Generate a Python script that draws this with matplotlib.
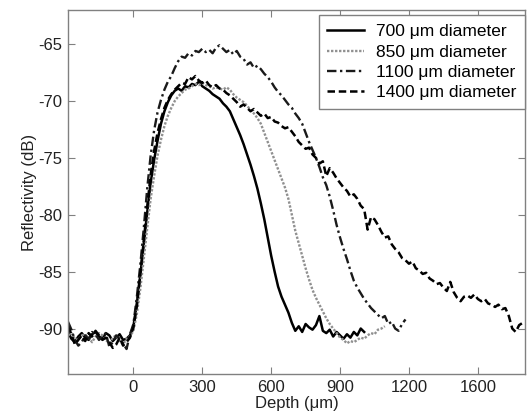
import numpy as np
import matplotlib.pyplot as plt

plt.rcParams['font.family'] = ['Liberation Sans', 'DejaVu Sans']
plt.rcParams['axes.unicode_minus'] = False

# reflectivity (dB) sampled every 15 um of depth, starting at -285 um
start_depth = -285
step = 15

db_700 = [-90.3, -90.9, -91.2, -90.7, -90.4, -90.8, -91.0, -90.5, -90.3, -90.7,
          -90.9, -90.4, -90.6, -91.1, -90.8, -90.5, -91.0, -90.9, -90.6,
          -89.8, -87.8, -85.3, -82.6, -79.8, -77.2, -75.2, -73.5, -72.0, -70.9,
          -70.1, -69.5, -69.1, -68.9, -69.1, -68.7, -68.8, -68.5, -68.6, -68.3,
          -68.7, -68.9, -69.1, -69.4, -69.6, -69.8, -70.2, -70.5, -70.9, -71.6,
          -72.3, -73.0, -73.8, -74.7, -75.6, -76.6, -77.7, -79.0, -80.4, -82.0,
          -83.6, -85.0, -86.3, -87.2, -87.9, -88.6, -89.5, -90.2, -89.8, -90.3,
          -89.6, -89.9, -90.1, -89.7, -88.9, -90.2, -90.4, -90.1, -90.7, -90.3,
          -90.6, -90.9, -90.5, -90.8, -90.3, -90.6, -90.0, -90.3]

db_850 = [-90.6, -90.4, -90.9, -91.0, -90.6, -90.5, -90.8, -91.2, -90.7, -90.4,
          -90.6, -91.0, -91.3, -90.8, -90.6, -91.1, -91.4, -90.9, -90.7,
          -90.2, -88.7, -86.5, -83.9, -81.2, -78.6, -76.6, -74.8, -73.4, -72.2,
          -71.3, -70.6, -70.0, -69.6, -69.3, -69.0, -68.9, -68.7, -68.5, -68.6,
          -68.4, -68.6, -68.7, -68.9, -68.8, -68.9, -69.0, -68.8, -69.0, -69.4,
          -69.7, -69.9, -70.1, -70.4, -70.8, -71.1, -71.5, -72.0, -72.8, -73.6,
          -74.4, -75.2, -76.0, -76.8, -77.6, -78.6, -80.0, -81.4, -82.5, -83.6,
          -84.7, -85.7, -86.6, -87.3, -87.9, -88.5, -89.1, -89.6, -90.0, -90.4,
          -90.8, -91.0, -91.3, -91.1, -91.2, -91.0, -90.8, -90.9, -90.6, -90.4,
          -90.5, -90.1, -90.0, -89.8]

db_1100 = [-89.4, -90.1, -91.0, -91.5, -91.2, -90.6, -90.9, -90.3, -90.5, -91.0,
           -90.7, -90.4, -91.6, -91.2, -90.6, -90.9, -91.3, -91.8, -90.5,
           -89.6, -87.2, -84.4, -81.2, -77.7, -74.8, -72.6, -71.0, -69.9, -69.0,
           -68.3, -67.8, -67.1, -66.5, -66.1, -66.2, -65.8, -66.0, -65.6, -65.7,
           -65.4, -65.7, -65.5, -65.8, -65.3, -65.1, -65.4, -65.7, -65.5, -65.9,
           -65.6, -66.1, -66.3, -66.8, -66.6, -67.1, -66.9, -67.2, -67.6, -67.9,
           -68.3, -68.8, -69.2, -69.5, -69.9, -70.3, -70.6, -71.1, -71.5, -72.0,
           -72.8, -73.6, -74.3, -75.0, -75.8, -76.7, -77.4, -78.4, -79.6, -80.9,
           -82.0, -83.0, -83.9, -84.9, -85.8, -86.4, -86.9, -87.4, -87.8, -88.2,
           -88.5, -88.8, -89.1, -88.9, -89.6, -89.4, -90.0, -90.2, -89.6, -89.2]

db_1400 = [-89.8, -90.5, -91.4, -91.0, -90.6, -91.1, -90.4, -90.7, -90.2, -90.6,
           -91.0, -90.8, -91.2, -91.7, -91.4, -90.8, -91.5, -91.2, -90.8,
           -89.9, -88.0, -85.2, -82.3, -79.3, -76.5, -74.4, -72.8, -71.6, -70.6,
           -69.9, -69.4, -69.0, -68.7, -68.4, -68.5, -67.9, -68.1, -67.8, -68.2,
           -68.4, -68.2, -68.6, -68.8, -68.6, -68.9, -69.0, -69.3, -69.5, -69.8,
           -70.1, -70.5, -70.3, -70.6, -70.9, -70.7, -71.0, -71.3, -71.1, -71.5,
           -71.4, -71.8, -71.9, -72.2, -72.4, -72.3, -72.7, -73.1, -73.6, -73.9,
           -74.2, -74.1, -74.7, -75.0, -75.5, -75.3, -76.6, -75.9, -76.3, -76.8,
           -77.2, -77.6, -77.9, -78.4, -78.2, -78.6, -79.2, -79.5, -81.3, -80.2,
           -80.4, -80.9, -81.5, -82.0, -81.9, -82.6, -83.0, -83.3, -83.8, -84.0,
           -84.3, -84.1, -84.7, -84.9, -85.2, -85.1, -85.6, -85.8, -86.1, -86.0,
           -86.4, -86.7, -85.9, -86.8, -87.3, -87.6, -87.2, -87.1, -87.3, -87.0,
           -87.4, -87.6, -87.4, -87.8, -87.9, -88.1, -87.9, -88.3, -88.2, -88.9,
           -90.0, -90.3, -89.7, -89.5, -89.4]

labels = ['700 \u03bcm diameter', '850 \u03bcm diameter',
          '1100 \u03bcm diameter', '1400 \u03bcm diameter']
xticks = [0, 300, 600, 900, 1200, 1500]
xtick_labels = ['0', '300', '600', '900', '1200', '1600']
yticks = [-90, -85, -80, -75, -70, -65]


def depth_for(values):
    return start_depth + step * np.arange(len(values))


fig = plt.figure(figsize=(5.27, 4.17), dpi=100)
ax = fig.add_axes([0.129, 0.103, 0.867, 0.873])

ax.plot(depth_for(db_700), db_700, color='black', lw=1.8, label=labels[0])
ax.plot(depth_for(db_850), db_850, color='#909090', lw=1.7, ls=(0, (1, 0.7)), label=labels[1])
ax.plot(depth_for(db_1100), db_1100, color='#1a1a1a', lw=1.7, ls=(0, (4, 1.5, 1, 1.5)), label=labels[2])
ax.plot(depth_for(db_1400), db_1400, color='black', lw=1.8, ls=(0, (3, 1.5)), label=labels[3])

ax.set_xlim(-285, 1705)
ax.set_ylim(-94, -62)
ax.set_xticks(xticks)
ax.set_xticklabels(xtick_labels)
ax.set_yticks(yticks)
ax.tick_params(direction='in', length=5, top=True, right=True, labelsize=12,
               color='#808080', labelcolor='#222222', pad=4)
for s in ax.spines.values():
    s.set_color('#808080')
    s.set_linewidth(1.0)

ax.set_xlabel('Depth (\u03bcm)', fontsize=12, color='#222222', labelpad=1)
ax.set_ylabel('Reflectivity (dB)', fontsize=12, color='#222222', labelpad=1)

leg = ax.legend(loc='upper right', bbox_to_anchor=(1.0, 0.985), borderaxespad=0,
                fontsize=12.5, fancybox=False, framealpha=1, edgecolor='#808080',
                handlelength=2.1, labelspacing=0.3, handletextpad=0.7, borderpad=0.5)
leg.get_frame().set_linewidth(1.0)

fig.savefig('out.png', dpi=100)
